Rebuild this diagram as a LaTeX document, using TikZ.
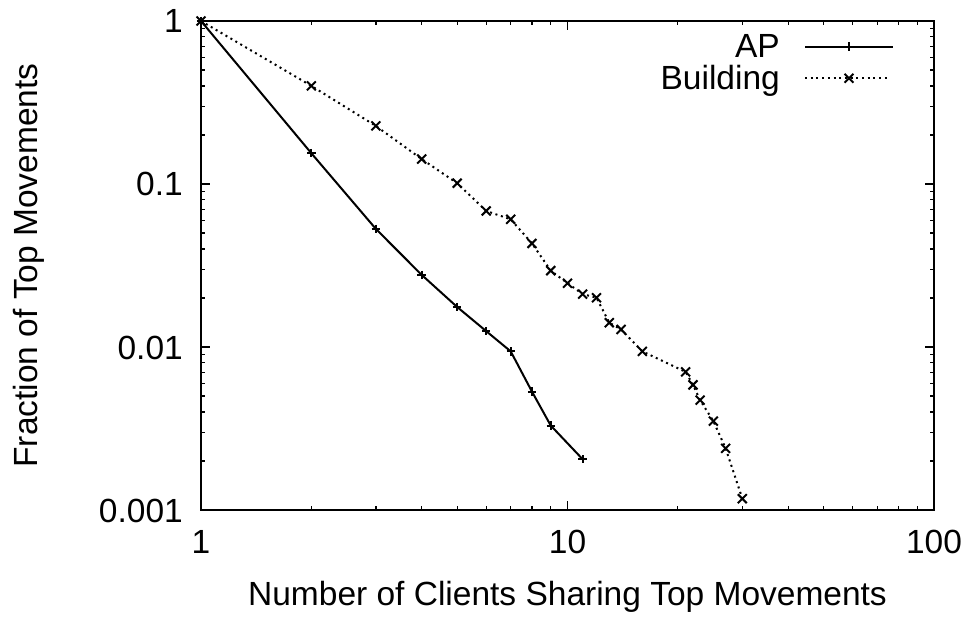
\documentclass[tikz,border=0pt]{standalone}
\usepackage{fontspec}
\setmainfont{Liberation Sans}
\usetikzlibrary{positioning}
\definecolor{plotInk}{RGB}{0,0,0}

\begin{document}
\begin{tikzpicture}[x=366.5pt, y=163pt,
    axisline/.style={plotInk, line width=1.7pt},
    tickline/.style={plotInk, line width=1.3pt},
    ticklabel/.style={font=\fontsize{33.5}{40}\selectfont, inner sep=0pt},
    titlelabel/.style={font=\fontsize{33.5}{40}\selectfont, inner sep=0pt},
    apcurve/.style={plotInk, line width=2pt, mark=+, mark size=4.2pt, mark options={solid, line width=2pt}},
    bldcurve/.style={plotInk, line width=2pt, dash pattern=on 2pt off 3.7pt, mark=x, mark size=6.3pt, mark options={solid, line width=2pt}}]
  \useasboundingbox (-0.5484,-0.6687) rectangle (2.1009,3.1288);

  % frame of the log-log axes
  \coordinate (origin) at (0,0);
  \coordinate (far) at (2,3);
  \draw[axisline] (origin) rectangle (far);

  % minor and major ticks, mirrored on all sides
  \foreach \d in {0,1} {
    \foreach \m in {2,...,9} {
      \draw[tickline] ({\d+log10(\m)},0) -- ++(0,4.5pt);
      \draw[tickline] ({\d+log10(\m)},3) -- ++(0,-4.5pt);
    }
  }
  \foreach \d in {0,1,2} {
    \foreach \m in {2,...,9} {
      \draw[tickline] (0,{\d+log10(\m)}) -- ++(4.5pt,0);
      \draw[tickline] (2,{\d+log10(\m)}) -- ++(-4.5pt,0);
    }
  }
  \draw[tickline] (1,0) -- ++(0,9pt);
  \draw[tickline] (1,3) -- ++(0,-9pt);
  \foreach \d in {1,2} {
    \draw[tickline] (0,\d) -- ++(9pt,0);
    \draw[tickline] (2,\d) -- ++(-9pt,0);
  }

  % tick labels
  \node[ticklabel, anchor=base east] (ytick1) at ([xshift=-18pt, yshift=-12pt]0,3) {1};
  \node[ticklabel, anchor=base east] (ytick2) at ([xshift=-18pt, yshift=-12pt]0,2) {0.1};
  \node[ticklabel, anchor=base east] (ytick3) at ([xshift=-18pt, yshift=-12pt]0,1) {0.01};
  \node[ticklabel, anchor=base east] (ytick4) at ([xshift=-18pt, yshift=-12pt]0,0) {0.001};
  \node[ticklabel, anchor=base] (xtick1) at ([yshift=-43pt]0,0) {1};
  \node[ticklabel, anchor=base] (xtick2) at ([yshift=-43pt]1,0) {10};
  \node[ticklabel, anchor=base] (xtick3) at ([yshift=-43pt]2,0) {100};

  % axis titles
  \node[titlelabel, anchor=base] (xtitle) at ([yshift=-95pt]1,0) {Number of Clients Sharing Top Movements};
  \node[titlelabel, anchor=base, rotate=90] (ytitle) at ([xshift=-163pt]0,1.5) {Fraction of Top Movements};

  % curves
  \draw[apcurve] plot coordinates {(0,3) ({log10(2)},{log10(0.153)+3}) ({log10(3)},{log10(0.053)+3})
    ({log10(4)},{log10(0.0277)+3}) ({log10(5)},{log10(0.0173)+3}) ({log10(6)},{log10(0.0125)+3})
    ({log10(7)},{log10(0.0093)+3}) ({log10(8)},{log10(0.0053)+3}) ({log10(9)},{log10(0.0033)+3})
    ({log10(11)},{log10(0.0020)+3})};
  \draw[bldcurve] plot coordinates {(0,3) ({log10(2)},{log10(0.40)+3}) ({log10(3)},{log10(0.227)+3})
    ({log10(4)},{log10(0.14)+3}) ({log10(5)},{log10(0.101)+3}) ({log10(6)},{log10(0.067)+3})
    ({log10(7)},{log10(0.0607)+3}) ({log10(8)},{log10(0.043)+3}) ({log10(9)},{log10(0.0294)+3})
    ({log10(10)},{log10(0.0246)+3}) ({log10(11)},{log10(0.021)+3}) ({log10(12)},{log10(0.0199)+3})
    ({log10(13)},{log10(0.0141)+3}) ({log10(14)},{log10(0.0128)+3}) ({log10(16)},{log10(0.0093)+3})
    ({log10(21)},{log10(0.00703)+3}) ({log10(22)},{log10(0.00585)+3}) ({log10(23)},{log10(0.00467)+3})
    ({log10(25)},{log10(0.00351)+3}) ({log10(27)},{log10(0.00236)+3}) ({log10(30)},{log10(0.00116)+3})};

  % key
  \node[ticklabel, anchor=base east] (keyap) at (1.5798,2.7773) {AP};
  \node[ticklabel, anchor=base east] (keybld) at (1.5798,2.5767) {Building};
  \coordinate (apstart) at (1.648,2.8423);
  \coordinate (apend) at (1.888,2.8423);
  \coordinate (bldstart) at (1.648,2.6485);
  \coordinate (bldend) at (1.880,2.6485);
  \draw[apcurve, mark=none] (apstart) -- (apend);
  \draw[bldcurve, mark=none] (bldstart) -- (bldend);
  \path[apcurve] plot coordinates {(1.768,2.8423)};
  \path[bldcurve] plot coordinates {(1.768,2.6485)};
\end{tikzpicture}
\end{document}
